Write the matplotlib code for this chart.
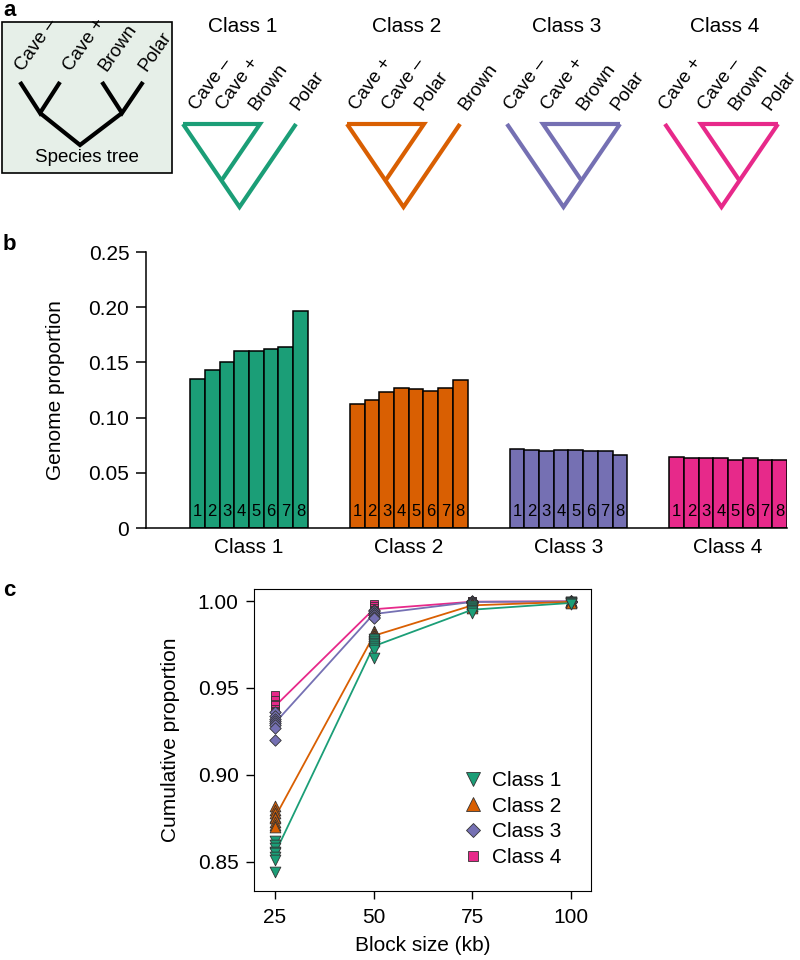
import matplotlib.pyplot as plt
from matplotlib.patches import Rectangle
from matplotlib.lines import Line2D

plt.rcParams['font.family'] = ['Liberation Sans', 'DejaVu Sans']

classes = ["Class 1", "Class 2", "Class 3", "Class 4"]
colors = ["#1b9e77", "#d95f02", "#7570b3", "#e7298a"]
markers = ["v", "^", "D", "s"]

species_tips = ["Cave \u2013", "Cave +", "Brown", "Polar"]
class_tips = [
    ["Cave \u2013", "Cave +", "Brown", "Polar"],
    ["Cave +", "Cave \u2013", "Polar", "Brown"],
    ["Cave \u2013", "Cave +", "Brown", "Polar"],
    ["Cave +", "Cave \u2013", "Brown", "Polar"],
]
# side of the single lineage that joins at the root
lone_side = ["right", "right", "left", "left"]

# genome proportion of each class, replicates 1-8
prop_class1 = [0.135, 0.143, 0.150, 0.160, 0.160, 0.162, 0.164, 0.197]
prop_class2 = [0.112, 0.116, 0.123, 0.127, 0.126, 0.124, 0.127, 0.134]
prop_class3 = [0.072, 0.071, 0.070, 0.071, 0.071, 0.070, 0.070, 0.066]
prop_class4 = [0.064, 0.063, 0.063, 0.063, 0.062, 0.063, 0.062, 0.062]
replicates = ["1", "2", "3", "4", "5", "6", "7", "8"]

# cumulative proportion by block size (kb), 8 replicates each
block_sizes = [25, 50, 75, 100]
cum_class1 = [[0.862, 0.860, 0.858, 0.856, 0.855, 0.853, 0.851, 0.844],
              [0.978, 0.977, 0.976, 0.975, 0.974, 0.973, 0.972, 0.967],
              [0.997, 0.996, 0.996, 0.995, 0.995, 0.994, 0.994, 0.993],
              [0.9995, 0.9993, 0.999, 0.999, 0.999, 0.9988, 0.9985, 0.998]]
cum_class2 = [[0.882, 0.880, 0.878, 0.876, 0.875, 0.873, 0.871, 0.870],
              [0.983, 0.982, 0.981, 0.980, 0.980, 0.979, 0.978, 0.977],
              [0.999, 0.998, 0.998, 0.998, 0.997, 0.997, 0.997, 0.996],
              [1.000, 0.9998, 0.9996, 0.9995, 0.9995, 0.9994, 0.9993, 0.999]]
cum_class3 = [[0.936, 0.934, 0.932, 0.931, 0.930, 0.929, 0.927, 0.920],
              [0.995, 0.994, 0.993, 0.993, 0.992, 0.992, 0.991, 0.990],
              [1.000, 0.9998, 0.9996, 0.9995, 0.9994, 0.9993, 0.9992, 0.999],
              [1.000, 1.000, 0.9998, 0.9998, 0.9997, 0.9996, 0.9995, 0.9995]]
cum_class4 = [[0.946, 0.943, 0.941, 0.940, 0.938, 0.937, 0.936, 0.935],
              [0.998, 0.997, 0.996, 0.995, 0.995, 0.994, 0.994, 0.993],
              [1.000, 0.9998, 0.9997, 0.9996, 0.9995, 0.9995, 0.9994, 0.9993],
              [1.000, 1.000, 0.9999, 0.9998, 0.9998, 0.9997, 0.9996, 0.9996]]

props = [prop_class1, prop_class2, prop_class3, prop_class4]
cums = [cum_class1, cum_class2, cum_class3, cum_class4]

FS = 15

fig = plt.figure(figsize=(8, 9.6), dpi=100)
W, H = 800.0, 960.0


def px_axes(left, top, right, bottom):
    return fig.add_axes([left / W, 1 - bottom / H, (right - left) / W, (bottom - top) / H])


# ---------------- panel a: trees ----------------
axa = px_axes(0, 0, 800, 230)
axa.set_xlim(0, 800)
axa.set_ylim(230, 0)
axa.axis("off")

axa.add_patch(Rectangle((2, 22), 170, 151, facecolor="#e6efe8", edgecolor="black", lw=1.2))
tree_kw = dict(lw=3.0, solid_capstyle="butt", solid_joinstyle="miter")
sp_x = [20, 60, 102, 143]
sp_lab_x = [23, 71, 106, 146]
tip_y, node_y, root_y = 82, 113, 145
axa.plot([sp_x[0], 40, sp_x[1]], [tip_y, node_y, tip_y], color="black", **tree_kw)
axa.plot([sp_x[2], 122, sp_x[3]], [tip_y, node_y, tip_y], color="black", **tree_kw)
axa.plot([40, 80, 122], [node_y, root_y, node_y], color="black", **tree_kw)
for x, lab in zip(sp_lab_x, species_tips):
    axa.text(x, tip_y - 10, lab, rotation=55, rotation_mode="anchor",
             ha="left", va="baseline", fontsize=13.5)
axa.text(87, 158, "Species tree", ha="center", va="center", fontsize=13.5)

label_offsets = [[14, 41, 73, 116], [10, 43, 75, 119], [5, 42, 77, 112], [2, 41, 72, 106]]


def draw_class_tree(ax, x0, side, color, labels, offs, title):
    top, w, h, bar = 124, 113, 83, 77
    k = (w / 2.0) / h
    ax.plot([x0, x0 + w / 2.0, x0 + w], [top, top + h, top], color=color, **tree_kw)
    t = bar / (2 * k)
    if side == "right":
        xb = x0 + bar
        ax.plot([x0, xb, xb - k * t], [top, top, top + t], color=color, **tree_kw)
    else:
        xb = x0 + w - bar
        ax.plot([x0 + w, xb, xb + k * t], [top, top, top + t], color=color, **tree_kw)
    for off, lab in zip(offs, labels):
        ax.text(x0 + off, 111, lab, rotation=54, rotation_mode="anchor",
                ha="left", va="baseline", fontsize=13.5)
    ax.text(x0 + w / 2.0 + 3, 26, title, ha="center", va="center", fontsize=FS)


for x0, side, c, labs, offs, name in zip([183, 347, 507, 665], lone_side, colors,
                                         class_tips, label_offsets, classes):
    draw_class_tree(axa, x0, side, c, labs, offs, name)

fig.text(3 / W, 1 - 11 / H, "a", fontsize=16, fontweight="bold", va="center")
fig.text(3 / W, 1 - 245 / H, "b", fontsize=16, fontweight="bold", va="center")
fig.text(3 / W, 1 - 590 / H, "c", fontsize=16, fontweight="bold", va="center")

# ---------------- panel b: bars ----------------
axb = px_axes(146, 252, 787, 528)
group_step = 10.85
first = 3.0
for g, (vals, c) in enumerate(zip(props, colors)):
    xs = [first + g * group_step + i for i in range(len(vals))]
    axb.bar(xs, vals, width=1.0, align="edge", color=c, edgecolor="black", lw=1.1)
    for x, r in zip(xs, replicates):
        axb.text(x + 0.5, 0.0145, r, ha="center", va="center", fontsize=12)
axb.set_xlim(0, first + 3 * group_step + 8)
axb.set_ylim(0, 0.25)
axb.set_xticks([first + g * group_step + 4 for g in range(4)])
axb.set_xticklabels(classes, fontsize=FS)
axb.tick_params(axis="x", length=0, pad=7)
axb.set_yticks([0, 0.05, 0.10, 0.15, 0.20, 0.25])
axb.set_yticklabels(["0", "0.05", "0.10", "0.15", "0.20", "0.25"], fontsize=FS)
axb.tick_params(axis="y", length=7, width=1.1, pad=5)
for s in ["top", "right"]:
    axb.spines[s].set_visible(False)
for s in ["left", "bottom"]:
    axb.spines[s].set_linewidth(1.1)
axb.set_ylabel("Genome proportion", fontsize=FS, labelpad=17)

# ---------------- panel c: cumulative ----------------
axc = px_axes(254, 589, 591, 891)
order = [3, 2, 1, 0]
for g in order:
    means = [sum(v) / len(v) for v in cums[g]]
    axc.plot(block_sizes, means, color=colors[g], lw=1.3, zorder=1 + (3 - g) * 2)
    for b, vals in zip(block_sizes, cums[g]):
        axc.scatter([b] * len(vals), vals, marker=markers[g], s=[60, 60, 34, 32][g],
                    facecolor=colors[g], edgecolor="#333333", linewidths=0.6,
                    zorder=2 + (3 - g) * 2)
axc.set_xlim(19.7, 105.1)
axc.set_ylim(0.8333, 1.0069)
axc.set_xticks(block_sizes)
axc.set_xticklabels([str(b) for b in block_sizes], fontsize=FS)
axc.set_yticks([0.85, 0.90, 0.95, 1.00])
axc.set_yticklabels(["0.85", "0.90", "0.95", "1.00"], fontsize=FS)
axc.tick_params(length=6, width=1.0)
axc.tick_params(axis="x", pad=6)
axc.tick_params(axis="y", pad=5)
axc.set_xlabel("Block size (kb)", fontsize=FS, labelpad=7)
axc.set_ylabel("Cumulative proportion", fontsize=FS, labelpad=13)

handles = [Line2D([], [], ls="none", marker=m, markersize=ms, markerfacecolor=c,
                  markeredgecolor="#333333", markeredgewidth=0.6)
           for m, c, ms in zip(markers, colors, [10, 10, 7.5, 7.5])]
axc.legend(handles, classes, loc="lower right", bbox_to_anchor=(0.942, 0.045),
           frameon=False, fontsize=FS, handletextpad=0.3, labelspacing=0.32,
           borderpad=0, handlelength=1.2)

fig.savefig("out.png", dpi=100)
